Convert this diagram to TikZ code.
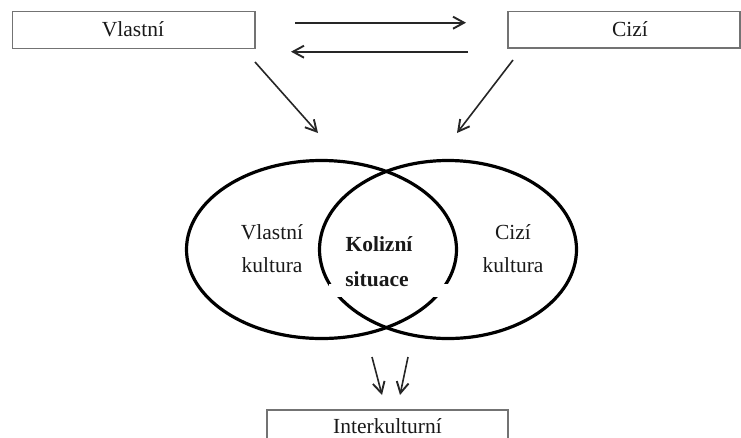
\documentclass[tikz,border=0pt]{standalone}
\usepackage{fontspec}
\setmainfont{Liberation Serif}
\usetikzlibrary{arrows.meta}
\begin{document}
\begin{tikzpicture}[x=1pt,y=-1pt,
  lbox/.style={draw=black!55,line width=1.2pt,rectangle,inner sep=0pt},
  txt/.style={anchor=base,inner sep=0pt,font=\fontsize{21.5}{26}\selectfont,text=black!90},
  conn/.style={draw=black!85,line width=1.9pt,-{Straight Barb[length=11pt,width=12pt,line width=1.9pt]}},
  dconn/.style={conn,line width=1.6pt},
  ring/.style={draw=black,line width=3.2pt}]
\useasboundingbox (0,0) rectangle (741,437);
\clip (0,0) rectangle (741,437);
% boxes
\node[lbox,minimum width=242.5pt,minimum height=36.6pt] (bv) at (133.75,30) {};
\node[lbox,minimum width=232pt,minimum height=36.3pt] (bc) at (624,29.85) {};
\node[lbox,minimum width=241pt,minimum height=40pt] (bi) at (387.5,430) {};
\node[txt] (tv) at (133,36.7) {Vlastní};
\node[txt] (tc) at (630,36.7) {Cizí};
\node[txt] (ti) at (387.5,433) {Interkulturní};
% horizontal arrows
\coordinate (h1s) at (295,22.7);
\coordinate (h1e) at (466,22.7);
\coordinate (h2s) at (468,51.7);
\coordinate (h2e) at (291,51.7);
\draw[conn] (h1s) -- (h1e);
\draw[conn] (h2s) -- (h2e);
% diagonal arrows
\coordinate (d1s) at (255,62);
\coordinate (d1e) at (318,133);
\coordinate (d2s) at (513,60);
\coordinate (d2e) at (457,133);
\draw[dconn] (d1s) -- (d1e);
\draw[dconn] (d2s) -- (d2e);
% ellipses
\coordinate (el) at (321.5,249.5);
\coordinate (er) at (448,249.5);
\draw[ring] (el) ellipse [x radius=135, y radius=89];
\draw[ring] (er) ellipse [x radius=128.5, y radius=89];
\fill[white] (329,283.5) rectangle (451,296.5);
% ellipse texts
\node[txt] (v1) at (272,239.3) {Vlastní};
\node[txt] (v2) at (272,272.7) {kultura};
\node[txt] (c1) at (513,239.3) {Cizí};
\node[txt] (c2) at (513,272.7) {kultura};
\node[txt,font=\fontsize{21.5}{26}\selectfont\bfseries] (k1) at (379,251.7) {Kolizní};
\node[txt,font=\fontsize{21.5}{26}\selectfont\bfseries] (k2) at (377,286) {situace};
% bottom arrows
\coordinate (b1s) at (372,357);
\coordinate (b1e) at (382,395);
\coordinate (b2s) at (408,357);
\coordinate (b2e) at (400,395);
\draw[dconn] (b1s) -- (b1e);
\draw[dconn] (b2s) -- (b2e);
\end{tikzpicture}
\end{document}
